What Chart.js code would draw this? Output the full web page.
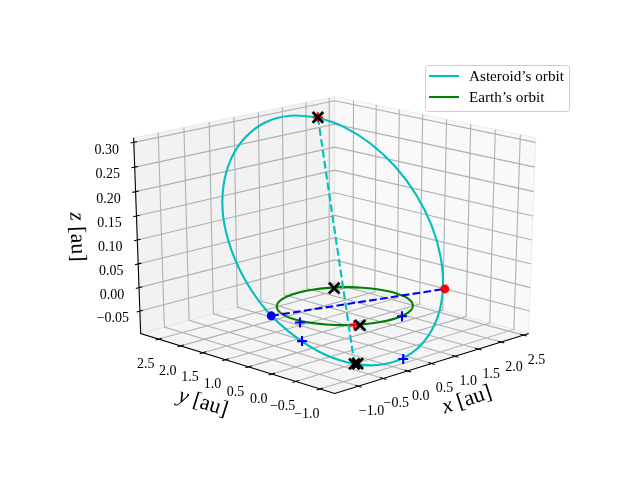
<!DOCTYPE html>
<html>
<head>
<meta charset="utf-8">
<style>body { margin: 0; background: #fff; }</style>
<script src="https://cdn.jsdelivr.net/npm/chart.js@4"></script>
</head>
<body>
<canvas id="chart" width="640" height="480"></canvas>
<script>
// values in au
const xTicks = [-1.0, -0.5, 0.0, 0.5, 1.0, 1.5, 2.0, 2.5];
const yTicks = [-1.0, -0.5, 0.0, 0.5, 1.0, 1.5, 2.0, 2.5];
const zTicks = [-0.05, 0.00, 0.05, 0.10, 0.15, 0.20, 0.25, 0.30];
const xLim = [-1.389, 2.537];
const yLim = [-1.22, 2.836];
const zLim = [-0.09, 0.301];

const asteroidX = [1.689, 1.974, 2.183, 2.283, 2.267, 2.135, 1.896, 1.567, 1.171, 0.735, 0.287, -0.142, -0.521, -0.835, -1.05, -1.165, -1.15, -1.017, -0.778, -0.44, -0.033, 0.413, 0.861, 1.30, 1.689];
const asteroidY = [2.329, 2.056, 1.677, 1.240, 0.773, 0.308, -0.123, -0.490, -0.769, -0.940, -0.993, -0.922, -0.733, -0.43, -0.046, 0.406, 0.873, 1.338, 1.769, 2.127, 2.395, 2.556, 2.609, 2.528, 2.329];
const asteroidZ = [0.296, 0.2756, 0.2435, 0.2021, 0.154, 0.1029, 0.0518, 0.0044, -0.0362, -0.0668, -0.086, -0.0919, -0.0844, -0.0639, -0.0319, 0.0095, 0.0574, 0.1087, 0.1598, 0.2072, 0.2478, 0.2785, 0.2976, 0.3035, 0.296];

const earthX = [1, 0.966, 0.866, 0.707, 0.5, 0.259, 0, -0.259, -0.5, -0.707, -0.866, -0.966, -1, -0.966, -0.866, -0.707, -0.5, -0.259, 0, 0.259, 0.5, 0.707, 0.866, 0.966, 1];
const earthY = [0, 0.259, 0.5, 0.707, 0.866, 0.966, 1, 0.966, 0.866, 0.707, 0.5, 0.259, 0, -0.259, -0.5, -0.707, -0.866, -0.966, -1, -0.966, -0.866, -0.707, -0.5, -0.259, 0];

const apsidesX = [1.689, -0.521];
const apsidesY = [2.329, -0.733];
const apsidesZ = [0.296, -0.0844];
const nodesX = [-1.11, 1.674];
const nodesY = [0.39, -0.43];

const blackX = [1.689, -0.521, -0.48, 0.55, -0.549];
const blackY = [2.329, -0.733, -0.76, 0.794, -0.874];
const blackZ = [0.296, -0.0844, -0.0844, 0, 0];
const redPlusX = [1.689, -0.604];
const redPlusY = [2.329, -0.814];
const redPlusZ = [0.296, 0];
const bluePlusX = [-1.054, 0.194, -1.002, 0.227];
const bluePlusY = [-0.157, -0.986, -0.142, -0.99];
const bluePlusZ = [0, 0, -0.0401, -0.0897];

// mplot3d style view: elev 20, azim -135, eye distance 10
const sinEl = Math.sin(20 * Math.PI / 180), cosEl = Math.cos(20 * Math.PI / 180);
const sq = Math.SQRT1_2;
const scaleX = 2681, scaleY = 1998, originX = 334.7, originY = 237.4;
const pad = 1 / 48;

function project(x, y, z) {
  const bx = (x - xLim[0]) / (xLim[1] - xLim[0]) - 0.5;
  const by = (y - yLim[0]) / (yLim[1] - yLim[0]) - 0.5;
  const bz = (z - zLim[0]) / (zLim[1] - zLim[0]) - 0.5;
  const right = sq * (bx - by);
  const up = sinEl * sq * (bx + by) + cosEl * bz;
  const w = -cosEl * sq * (bx + by) + sinEl * bz;
  return { x: originX + scaleX * right / (10 - w), y: originY - scaleY * up / (10 - w) };
}

const xSpan = xLim[1] - xLim[0], ySpan = yLim[1] - yLim[0], zSpan = zLim[1] - zLim[0];
const x0 = xLim[0] - xSpan * pad, x1 = xLim[1] + xSpan * pad;
const y0 = yLim[0] - ySpan * pad, y1 = yLim[1] + ySpan * pad;
const z0 = zLim[0] - zSpan * pad, z1 = zLim[1] + zSpan * pad;
const tickLen = 0.016;

function series(xs, ys, zs) {
  return xs.map((v, i) => project(v, ys[i], zs ? zs[i] : 0));
}

// polylines in one dataset, NaN point breaks the line
function polylines(list) {
  const out = [];
  list.forEach(l => {
    l.forEach(p => out.push(project(p[0], p[1], p[2])));
    out.push({ x: NaN, y: NaN });
  });
  return out;
}

const gridLines = [], tickLines = [];
xTicks.forEach(v => {
  gridLines.push([[v, y0, z0], [v, y1, z0], [v, y1, z1]]);
  tickLines.push([[v, y0 - ySpan * tickLen, z0], [v, y0 + ySpan * tickLen, z0]]);
});
yTicks.forEach(v => {
  gridLines.push([[x0, v, z0], [x1, v, z0], [x1, v, z1]]);
  tickLines.push([[x0 - xSpan * tickLen, v, z0], [x0 + xSpan * tickLen, v, z0]]);
});
zTicks.forEach(v => {
  gridLines.push([[x0, y1, v], [x1, y1, v], [x1, y0, v]]);
  tickLines.push([[x0 - xSpan * tickLen, y1, v], [x0 + xSpan * tickLen, y1, v]]);
});
const axisLines = [
  [[x1, y0, z0], [x0, y0, z0], [x0, y1, z0], [x0, y1, z1]]
];

function line(label, data, color, width, extra) {
  return Object.assign({
    label: label, data: data, showLine: true, borderColor: color, borderWidth: width,
    pointRadius: 0, fill: false
  }, extra);
}
function pane(label, corners, color) {
  const pts = corners.map(c => project(c[0], c[1], c[2]));
  pts.push(pts[0]);
  return line(label, pts, 'rgba(225,225,225,0.6)', 1, { fill: 'shape', backgroundColor: color });
}
function marks(label, data, color, style, radius, width) {
  return {
    label: label, data: data, showLine: false, pointStyle: style, pointRadius: radius,
    pointBorderColor: color, pointBackgroundColor: color, pointBorderWidth: width
  };
}

const dash = [7.7, 3.3];
const datasets = [
  pane('floor', [[x0, y0, z0], [x1, y0, z0], [x1, y1, z0], [x0, y1, z0]], '#f5f5f5'),
  pane('left wall', [[x0, y1, z0], [x1, y1, z0], [x1, y1, z1], [x0, y1, z1]], '#f2f2f2'),
  pane('right wall', [[x1, y0, z0], [x1, y1, z0], [x1, y1, z1], [x1, y0, z1]], '#f9f9f9'),
  line('grid', polylines(gridLines), '#b0b0b0', 1.1),
  line('axes', polylines(axisLines), '#000000', 1.1),
  line('ticks', polylines(tickLines), '#000000', 1.1),
  line('Asteroid’s orbit', series(asteroidX, asteroidY, asteroidZ), '#00bfbf', 2.1, { tension: 0.33 }),
  line('Earth’s orbit', series(earthX, earthY), '#008000', 2.1, { tension: 0.33 }),
  line('apsides', series(apsidesX, apsidesY, apsidesZ), '#00bfbf', 2.1, { borderDash: dash }),
  line('nodes', series(nodesX, nodesY), '#0000ff', 2.1, { borderDash: dash }),
  marks('blue plus', series(bluePlusX, bluePlusY, bluePlusZ), '#0000ff', 'cross', 5, 2.1),
  marks('red plus', series(redPlusX, redPlusY, redPlusZ), '#ff0000', 'cross', 5, 2.1),
  marks('ascending node', series([nodesX[0]], [nodesY[0]]), '#0000ff', 'circle', 4.5, 0),
  marks('descending node', series([nodesX[1]], [nodesY[1]]), '#ff0000', 'circle', 4.5, 0),
  marks('black x', series(blackX, blackY, blackZ), '#000000', 'crossRot', 7.5, 2.8)
];
datasets.forEach((d, i) => { d.order = datasets.length - i; });

function tickText(v, digits) {
  return v.toFixed(digits).replace('-', '\u2212');
}

const textPlugin = {
  id: 'text3d',
  afterDraw(chart) {
    const ctx = chart.ctx, sx = chart.scales.x, sy = chart.scales.y;
    const px = p => ({ x: sx.getPixelForValue(p.x), y: sy.getPixelForValue(p.y) });
    ctx.save();
    ctx.fillStyle = '#000';
    ctx.textAlign = 'center';
    ctx.textBaseline = 'middle';
    ctx.font = '14px "Liberation Serif"';
    xTicks.forEach(v => {
      const p = px(project(v, y0, z0));
      ctx.fillText(tickText(v, 1), p.x + 13, p.y + 25);
    });
    yTicks.forEach(v => {
      const p = px(project(x0, v, z0));
      ctx.fillText(tickText(v, 1), p.x - 13, p.y + 25);
    });
    zTicks.forEach(v => {
      const p = px(project(x0, y1, v));
      ctx.fillText(tickText(v, 2), p.x - 27, p.y + 7.5);
    });

    axisLabel(ctx, 'x', 467, 400, -18.3);
    axisLabel(ctx, 'y', 203, 403, 17.5);
    axisLabel(ctx, 'z', 77, 237, 88);

    // legend
    ctx.beginPath();
    ctx.roundRect(425.5, 65.5, 144, 46, 3);
    ctx.fillStyle = 'rgba(255,255,255,0.8)';
    ctx.fill();
    ctx.strokeStyle = '#cccccc';
    ctx.lineWidth = 1;
    ctx.stroke();
    ctx.textAlign = 'left';
    ctx.font = '15.2px "Liberation Serif"';
    [[6, 76], [7, 97]].forEach(e => {
      const ds = chart.data.datasets[e[0]];
      ctx.strokeStyle = ds.borderColor;
      ctx.lineWidth = 2.1;
      ctx.beginPath();
      ctx.moveTo(429, e[1]);
      ctx.lineTo(459, e[1]);
      ctx.stroke();
      ctx.fillStyle = '#000';
      ctx.fillText(ds.label, 469, e[1] + 1);
    });
    ctx.restore();
  }
};

function axisLabel(ctx, letter, cx, cy, angle) {
  const rest = ' [au]';
  ctx.save();
  ctx.translate(cx, cy);
  ctx.rotate(angle * Math.PI / 180);
  ctx.textAlign = 'left';
  ctx.font = 'italic 22px "Liberation Serif"';
  const w1 = ctx.measureText(letter).width;
  ctx.font = '22px "Liberation Serif"';
  const w2 = ctx.measureText(rest).width;
  const start = -(w1 + w2) / 2;
  ctx.fillText(rest, start + w1, 0);
  ctx.font = 'italic 22px "Liberation Serif"';
  ctx.fillText(letter, start, 0);
  ctx.restore();
}

new Chart(document.getElementById('chart'), {
  type: 'scatter',
  data: { datasets: datasets },
  plugins: [textPlugin],
  options: {
    responsive: false,
    animation: false,
    devicePixelRatio: 1,
    layout: { padding: 0, autoPadding: false },
    plugins: { legend: { display: false }, tooltip: { enabled: false } },
    scales: {
      x: { type: 'linear', min: 0, max: 640, display: false },
      y: { type: 'linear', min: 0, max: 480, reverse: true, display: false }
    }
  }
});
</script>
</body>
</html>
